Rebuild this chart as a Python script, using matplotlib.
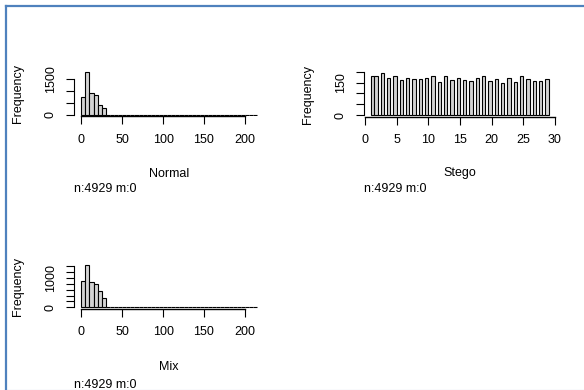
import matplotlib
matplotlib.use("Agg")
import matplotlib.pyplot as plt
from matplotlib.lines import Line2D
import numpy as np

plt.rcParams['font.family'] = ['Liberation Sans', 'DejaVu Sans']

W, H, DPI = 584, 390, 100

# ---- data ----
normal_bin_width = 5
normal_counts = [731, 1806, 901, 816, 391, 289] + [0] * 37
normal_xticks = [0, 50, 100, 150, 200]
normal_yticks = [0, 500, 1000, 1500]
normal_yticklabels = ['0', '', '', '1500']

mix_bin_width = 5
mix_counts = [916, 1451, 881, 789, 559, 333] + [0] * 37
mix_xticks = [0, 50, 100, 150, 200]
mix_yticks = [0, 200, 400, 600, 800, 1000, 1200, 1400]
mix_yticklabels = ['0', '', '', '', '', '1000', '', '']

stego_values = list(range(1, 30))
stego_counts = [179, 182, 194, 173, 178, 161, 173, 168, 168, 173, 178, 155, 182,
                164, 173, 164, 159, 173, 178, 159, 168, 148, 173, 155, 178, 168,
                159, 159, 168]
stego_bin_width = 0.5
stego_xticks = [0, 5, 10, 15, 20, 25, 30]
stego_yticks = [0, 50, 100, 150, 200]
stego_yticklabels = ['0', '', '', '150', '']

titles = ['Normal', 'Stego', 'Mix']
note = 'n:4929 m:0'

FS = 9
BAR_FC = '#d3d3d3'

fig = plt.figure(figsize=(W / DPI, H / DPI), dpi=DPI)


def px2fig(x, y):
    return x / W, 1 - y / H


def make_axes(x0_px, xscale, y0_px, yscale, xlim, ylim):
    left = x0_px + xlim[0] * xscale
    right = x0_px + xlim[1] * xscale
    bottom = y0_px - ylim[0] * yscale
    top = y0_px - ylim[1] * yscale
    ax = fig.add_axes([left / W, 1 - bottom / H, (right - left) / W, (bottom - top) / H])
    ax.set_xlim(*xlim)
    ax.set_ylim(*ylim)
    ax.patch.set_alpha(0)
    return ax, (left, right, top, bottom)


def style(ax, xticks, yticks, yticklabels):
    for s in ['top', 'right']:
        ax.spines[s].set_visible(False)
    ax.spines['left'].set_bounds(yticks[0], yticks[-1])
    ax.spines['bottom'].set_bounds(xticks[0], xticks[-1])
    ax.spines['left'].set_linewidth(0.8)
    ax.spines['bottom'].set_linewidth(1.0)
    ax.set_xticks(xticks)
    ax.set_xticklabels([str(t) for t in xticks])
    ax.set_yticks(yticks)
    ax.set_yticklabels(yticklabels, rotation=90, va='center')
    ax.tick_params(axis='both', direction='out', length=5.5, width=0.8, labelsize=FS,
                   colors='black')
    ax.tick_params(axis='x', pad=7)
    ax.tick_params(axis='y', pad=7)


def ext(lo, hi):
    d = (hi - lo) * 0.04
    return (lo - d, hi + d)


# ---- Normal ----
n_edges = np.arange(len(normal_counts)) * normal_bin_width
ax1, b1 = make_axes(81.3, 0.818, 114.5, 0.02353,
                    ext(0, n_edges[-1] + normal_bin_width), ext(0, max(normal_counts)))
ax1.bar(n_edges, normal_counts, width=normal_bin_width, align='edge', color=BAR_FC,
        edgecolor='black', linewidth=0.8)
style(ax1, normal_xticks, normal_yticks, normal_yticklabels)

# ---- Stego ----
s_edges = np.arange(stego_values[0], stego_values[-1], stego_bin_width)
s_counts = np.zeros(len(s_edges))
for v, c in zip(stego_values, stego_counts):
    idx = 0 if v == stego_values[0] else int(round((v - stego_bin_width - s_edges[0]) / stego_bin_width))
    s_counts[idx] = c
ax2, b2 = make_axes(365.0, 6.33, 115.3, 0.218,
                    ext(stego_values[0], stego_values[-1]), ext(0, max(stego_counts)))
ax2.bar(s_edges, s_counts, width=stego_bin_width, align='edge', color=BAR_FC,
        edgecolor='black', linewidth=0.8)
style(ax2, stego_xticks, stego_yticks, stego_yticklabels)

# ---- Mix ----
m_edges = np.arange(len(mix_counts)) * mix_bin_width
ax3, b3 = make_axes(81.3, 0.818, 307.3, 0.0292,
                    ext(0, m_edges[-1] + mix_bin_width), ext(0, max(mix_counts)))
ax3.bar(m_edges, mix_counts, width=mix_bin_width, align='edge', color=BAR_FC,
        edgecolor='black', linewidth=0.8)
style(ax3, mix_xticks, mix_yticks, mix_yticklabels)

# ---- labels ----
for (l, r, t, b), title, ylab_x, title_y, note_y in [
        (b1, titles[0], 18, 177.5, 192.5),
        (b2, titles[1], 308, 176.5, 192.5),
        (b3, titles[2], 18, 370.5, 388.5)]:
    x, y = px2fig(ylab_x, (t + b) / 2)
    fig.text(x, y, 'Frequency', rotation=90, ha='center', va='center', fontsize=FS)
    x, y = px2fig((l + r) / 2, title_y)
    fig.text(x, y, title, ha='center', va='baseline', fontsize=FS)
    x, y = px2fig(l, note_y)
    fig.text(x, y, note, ha='left', va='baseline', fontsize=FS)

# ---- blue frame ----
frame = '#4f81bd'
fig.add_artist(Line2D([6 / W, 1], [1 - 5.5 / H, 1 - 5.5 / H], transform=fig.transFigure,
                      color=frame, lw=1.6))
fig.add_artist(Line2D([6 / W, 6 / W], [0, 1 - 5.5 / H], transform=fig.transFigure,
                      color=frame, lw=1.6))
fig.add_artist(Line2D([6 / W, 1], [1 - 389.5 / H, 1 - 389.5 / H], transform=fig.transFigure,
                      color='#95b3d7', lw=0.8))

fig.savefig('out.png', dpi=DPI)
